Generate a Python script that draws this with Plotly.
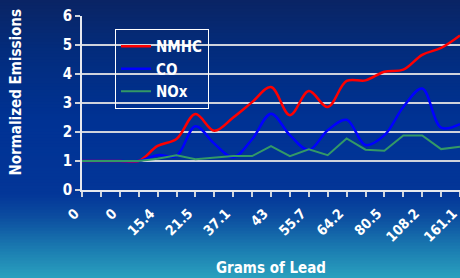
import plotly.graph_objects as go

# ---- data ----
tick_labels = ["0", "", "0", "", "15.4", "", "21.5", "", "37.1", "", "43", "",
               "55.7", "", "64.2", "", "80.5", "", "108.2", "", "161.1"]
nmhc = [1.0, 1.0, 1.0, 1.0, 1.52, 1.76, 2.62, 2.04, 2.5, 3.03, 3.55, 2.58,
        3.41, 2.86, 3.76, 3.78, 4.08, 4.15, 4.66, 4.9, 5.33]
co = [1.0, 1.0, 1.0, 1.0, 1.2, 1.18, 2.2, 1.6, 1.13, 1.75, 2.63, 1.89,
      1.38, 2.06, 2.42, 1.55, 1.89, 2.86, 3.5, 2.15, 2.27]
nox = [1.0, 1.0, 1.0, 1.0, 1.08, 1.2, 1.06, 1.11, 1.17, 1.17, 1.51, 1.17,
       1.4, 1.2, 1.78, 1.39, 1.35, 1.88, 1.88, 1.41, 1.49]
x = list(range(len(tick_labels)))

W, H = 460, 278
L, R, T, B = 82, 0, 16, 88
PW, PH = W - L - R, H - T - B

FONT = "DejaVu Sans Condensed, Liberation Sans, sans-serif"

fig = go.Figure()
fig.add_trace(go.Scatter(x=x, y=nmhc, name="NMHC", mode="lines",
                         line=dict(color="#ff0000", width=2.5, shape="spline")))
fig.add_trace(go.Scatter(x=x, y=co, name="CO", mode="lines",
                         line=dict(color="#0000ff", width=2.5, shape="spline")))
fig.add_trace(go.Scatter(x=x, y=nox, name="NOx", mode="lines",
                         line=dict(color="#339966", width=2, shape="linear")))

# ---- gradient background (decor) ----
stops = [(0, (10, 36, 100)), (50, (3, 44, 124)), (120, (0, 50, 148)),
         (195, (3, 54, 152)), (218, (12, 78, 160)), (248, (26, 122, 176)),
         (278, (42, 160, 190))]

def color_at(py):
    for (a, ca), (b, cb) in zip(stops[:-1], stops[1:]):
        if a <= py <= b:
            t = (py - a) / (b - a)
            c = [round(ca[i] + (cb[i] - ca[i]) * t) for i in range(3)]
            return "rgb(%d,%d,%d)" % tuple(c)
    return "rgb(%d,%d,%d)" % stops[-1][1]

shapes = []
step = 3
for py in range(0, H, step):
    y0 = (H - B - (py + step + 0.5)) / PH
    y1 = (H - B - (py - 0.5)) / PH
    shapes.append(dict(type="rect", xref="paper", yref="paper",
                       x0=-L / PW - 0.01, x1=1.01, y0=y0, y1=y1,
                       fillcolor=color_at(py + step / 2), line=dict(width=0),
                       layer="below"))

fig.update_layout(
    width=W, height=H,
    margin=dict(l=L, r=R, t=T, b=B, pad=0, autoexpand=False),
    paper_bgcolor="rgb(10,36,100)",
    plot_bgcolor="rgba(0,0,0,0)",
    shapes=shapes,
    font=dict(family=FONT, color="white", size=14, weight="bold"),
    showlegend=True,
    legend=dict(x=(115 - L) / PW, y=(H - B - 29) / PH, xanchor="left", yanchor="top",
                bgcolor="rgba(0,0,0,0)", bordercolor="white", borderwidth=1,
                font=dict(family=FONT, size=15, color="white", weight="bold"),
                itemwidth=30, tracegroupgap=0),
    xaxis=dict(range=[0, 20], tickmode="array", tickvals=x, ticktext=tick_labels,
               tickangle=-45, ticks="outside", ticklen=5, tickcolor="#d0d4dc",
               tickwidth=1.5, showgrid=False, showline=True, linecolor="#e6e8ee",
               linewidth=1.5, zeroline=False, automargin=False,
               ticklabeloverflow="allow", ticklabelshift=-7, ticklabelstandoff=3,
               tickfont=dict(family=FONT, size=14, color="white", weight="bold")),
    yaxis=dict(range=[0, 6], dtick=1, ticks="outside", ticklen=5,
               tickcolor="#d0d4dc", tickwidth=1.5, showgrid=True,
               gridcolor="#cfd3dc", gridwidth=1.5, showline=True, mirror=True,
               linecolor="#e6e8ee", linewidth=1.5, zeroline=False, automargin=False,
               tickfont=dict(family=FONT, size=15, color="white", weight="bold")),
    annotations=[
        dict(text="Grams of Lead", xref="paper", yref="paper",
             x=(271 - L) / PW, y=(H - B - 268) / PH, xanchor="center", yanchor="middle",
             showarrow=False,
             font=dict(family=FONT, size=15, color="white", weight="bold")),
        dict(text="Normalized Emissions", xref="paper", yref="paper",
             x=(15 - L) / PW, y=(H - B - 178) / PH, xanchor="center", yanchor="bottom",
             textangle=-90, showarrow=False,
             font=dict(family=FONT, size=15, color="white", weight="bold")),
    ],
)

fig.write_html(
    "out.html",
    config={"responsive": False, "displayModeBar": False},
    post_script="document.body.style.margin='0';document.body.style.overflow='hidden';",
)
